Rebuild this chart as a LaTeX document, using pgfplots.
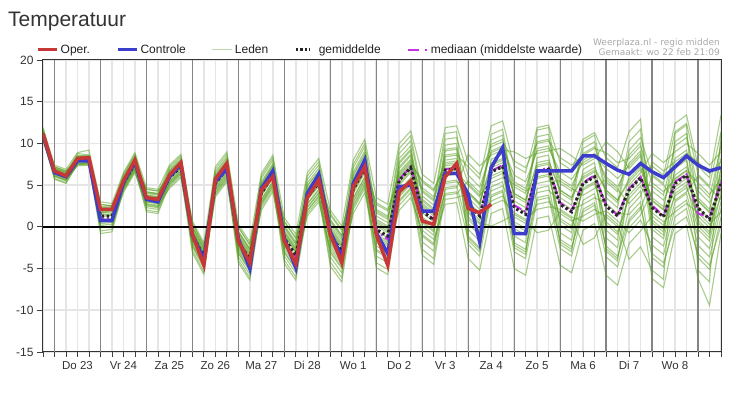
\documentclass[border=0pt]{standalone}
\usepackage{pgfplots}
\pgfplotsset{compat=1.18}
\usepackage{pgfplotstable}
\usepackage{fontspec}
\setmainfont{Liberation Sans}
\newfontfamily\smallfont{DejaVu Sans}
\definecolor{oper}{RGB}{200,55,55}
\definecolor{ctrl}{RGB}{60,60,205}
\definecolor{leden}{RGB}{90,160,35}
\definecolor{med}{RGB}{200,50,230}
\definecolor{txt}{RGB}{51,51,51}

\pgfplotstableread{
k oper ctrl mean med
0 11.2 11.0 11.0 11.0
1 6.7 6.5 6.6 6.6
2 6.1 6.0 6.1 6.1
3 8.2 7.9 8.0 8.0
4 8.3 7.9 8.0 8.0
5 2.1 0.75 1.3 1.0
6 2.1 0.75 1.3 1.0
7 5.5 5.3 5.2 5.3
8 8.0 7.8 7.6 7.7
9 3.5 3.3 3.4 3.4
10 3.3 3.0 3.2 3.2
11 6.2 6.0 5.9 6.0
12 7.7 7.5 7.2 7.3
13 -0.9 -1.0 -1.0 -1.1
14 -4.6 -3.9 -3.6 -3.8
15 5.75 5.5 5.2 5.3
16 7.6 6.9 7.0 7.0
17 -1.7 -1.4 -1.8 -1.9
18 -4.3 -5.0 -3.9 -4.1
19 4.4 4.6 4.0 4.1
20 6.0 6.7 6.2 6.2
21 -1.7 -1.4 -1.4 -1.5
22 -4.4 -4.9 -3.4 -3.6
23 3.5 4.0 3.6 3.7
24 5.6 6.3 5.3 5.4
25 -0.9 -0.6 -1.0 -1.1
26 -4.3 -3.6 -2.9 -3.1
27 4.8 5.2 4.5 4.6
28 7.2 8.0 7.0 7.0
29 -0.9 -0.7 -0.3 -0.5
30 -4.6 -3.2 -1.1 -1.5
31 4.2 4.8 5.6 5.7
32 5.5 5.0 7.1 7.2
33 0.7 1.9 1.9 2.1
34 0.3 1.9 0.8 0.9
35 6.0 6.4 6.8 6.9
36 7.6 6.4 7.0 7.1
37 2.2 3.9 2.7 2.9
38 1.7 -1.8 1.3 1.4
39 2.7 7.1 6.6 6.7
40 nan 9.5 7.2 7.4
41 nan -0.8 2.3 2.6
42 nan -0.8 1.5 1.8
43 nan 6.7 6.6 6.7
44 nan 6.7 6.9 7.1
45 nan 6.7 2.7 2.9
46 nan 6.7 1.8 1.9
47 nan 8.5 5.2 5.3
48 nan 8.5 6.0 6.2
49 nan 7.6 2.5 2.6
50 nan 6.8 1.3 1.4
51 nan 6.3 4.4 4.6
52 nan 7.6 5.9 6.0
53 nan 6.6 2.3 2.6
54 nan 5.9 1.2 1.3
55 nan 7.2 5.2 5.4
56 nan 8.5 6.2 6.3
57 nan 7.4 2.3 1.6
58 nan 6.7 0.9 1.1
59 nan 7.1 5.2 5.4
}\main

\pgfplotstableread{
k m1 m2 m3 m4 m5 m6 m7 m8 m9 m10 m11 m12 m13 m14 m15 m16
0 11.6 10.5 11.2 10.9 11.4 10.3 11.0 11.3 10.8 11.9 10.6 11.1 11.0 11.5 10.4 11.2
1 6.9 6.4 7.2 6.0 6.7 6.2 7.0 6.5 6.8 7.4 5.8 6.3 6.8 6.6 6.1 7.1
2 6.4 5.9 6.7 5.5 6.2 5.7 6.5 6.0 6.3 6.9 5.3 5.8 6.3 6.1 5.6 6.6
3 8.6 7.5 8.2 7.9 8.4 7.3 8.0 8.3 7.8 8.9 7.6 8.1 8.0 8.5 7.4 8.2
4 8.4 7.7 8.3 7.7 8.6 7.4 8.1 8.2 7.9 9.2 7.5 8.0 8.2 8.4 7.6 8.3
5 2.0 0.8 2.7 -0.1 1.5 0.4 2.3 1.0 1.8 3.0 -0.5 0.6 1.8 1.2 0.1 2.4
6 2.2 0.6 2.5 0.1 1.3 0.5 2.4 0.8 1.9 2.8 -0.3 0.7 1.6 1.4 0.0 2.6
7 6.2 4.5 5.4 5.0 5.8 4.1 5.3 5.6 4.8 6.5 4.7 5.4 5.1 6.0 4.3 5.5
8 8.6 6.9 7.8 7.4 8.2 6.5 7.7 8.0 7.2 8.9 7.1 7.8 7.5 8.4 6.7 7.9
9 4.0 3.0 4.5 2.3 3.5 2.7 4.2 3.2 3.8 4.7 2.0 2.8 3.8 3.3 2.5 4.2
10 3.8 2.8 4.3 2.1 3.3 2.5 4.0 3.0 3.6 4.5 1.8 2.6 3.6 3.1 2.3 4.0
11 7.0 5.1 6.2 5.7 6.6 4.6 6.0 6.4 5.5 7.4 5.3 6.1 5.8 6.8 4.8 6.3
12 8.3 6.4 7.5 7.0 7.9 5.9 7.3 7.7 6.8 8.7 6.6 7.4 7.1 8.1 6.1 7.6
13 -0.3 -1.5 0.4 -2.4 -0.8 -1.9 0.0 -1.3 -0.5 0.7 -2.8 -1.7 -0.5 -1.1 -2.2 0.1
14 -2.9 -4.1 -2.2 -5.0 -3.4 -4.5 -2.6 -3.9 -3.1 -1.9 -5.4 -4.3 -3.1 -3.7 -4.8 -2.5
15 6.6 4.1 5.6 4.9 6.1 3.6 5.3 5.8 4.7 7.2 4.4 5.5 5.1 6.4 3.8 5.7
16 8.4 5.9 7.4 6.7 7.9 5.4 7.1 7.6 6.5 9.0 6.2 7.3 6.9 8.2 5.6 7.5
17 -0.9 -2.4 -0.1 -3.6 -1.6 -2.9 -0.6 -2.1 -1.2 0.3 -4.0 -2.7 -1.1 -1.9 -3.2 -0.5
18 -3.0 -4.5 -2.2 -5.7 -3.7 -5.0 -2.7 -4.2 -3.3 -1.8 -6.1 -4.8 -3.2 -4.0 -5.3 -2.6
19 5.8 2.7 4.4 3.7 5.1 2.0 4.1 4.8 3.3 6.4 3.0 4.3 3.9 5.4 2.3 4.6
20 8.0 4.9 6.6 5.9 7.3 4.2 6.3 7.0 5.5 8.6 5.2 6.5 6.1 7.6 4.5 6.8
21 -0.4 -2.1 0.6 -3.5 -1.1 -2.7 0.0 -1.8 -0.7 1.1 -4.0 -2.4 -0.6 -1.5 -3.1 0.2
22 -2.4 -4.1 -1.4 -5.5 -3.1 -4.7 -2.0 -3.8 -2.7 -0.9 -6.0 -4.4 -2.6 -3.5 -5.1 -1.8
23 5.7 2.0 4.1 3.2 4.9 1.3 3.7 4.5 2.8 6.5 2.4 4.0 3.5 5.3 1.6 4.3
24 7.4 3.7 5.8 4.9 6.6 3.0 5.4 6.2 4.5 8.2 4.1 5.7 5.2 7.0 3.3 6.0
25 0.3 -1.8 1.4 -3.6 -0.7 -2.6 0.8 -1.5 -0.2 2.0 -4.2 -2.3 0.0 -1.2 -3.1 0.9
26 -1.6 -3.7 -0.5 -5.5 -2.6 -4.5 -1.1 -3.4 -2.1 0.1 -6.1 -4.2 -1.9 -3.1 -5.0 -1.0
27 7.1 2.6 5.1 4.0 6.1 1.6 4.7 5.6 3.5 8.0 3.1 5.0 4.3 6.6 2.1 5.3
28 9.6 5.1 7.6 6.5 8.6 4.1 7.2 8.1 6.0 10.5 5.6 7.5 6.8 9.1 4.6 7.8
29 1.3 -1.3 2.7 -3.5 0.1 -2.3 1.9 -0.9 0.7 3.5 -4.3 -1.9 0.9 -0.5 -2.9 2.1
30 0.5 -2.1 1.9 -4.3 -0.7 -3.1 1.1 -1.7 -0.1 2.7 -5.1 -2.7 0.1 -1.3 -3.7 1.3
31 8.8 3.2 6.4 5.0 7.6 2.0 5.8 7.0 4.4 10.0 3.8 6.2 5.4 8.2 2.6 6.6
32 10.3 4.7 7.9 6.5 9.1 3.5 7.3 8.5 5.9 11.5 5.3 7.7 6.9 9.7 4.1 8.1
33 3.7 0.7 5.4 -1.8 2.4 -0.4 4.4 1.2 3.1 6.3 -2.7 0.1 3.3 1.7 -1.1 4.7
34 2.6 -0.4 4.3 -2.9 1.3 -1.5 3.3 0.1 2.0 5.2 -3.8 -1.0 2.2 0.6 -2.2 3.6
35 10.5 4.0 7.7 6.1 9.1 2.7 7.0 8.4 5.4 11.9 4.7 7.5 6.6 9.8 3.3 8.0
36 10.7 4.2 7.9 6.3 9.3 2.9 7.2 8.6 5.6 12.1 4.9 7.7 6.8 10.0 3.5 8.2
37 6.2 -1.6 1.7 3.5 5.2 -3.8 0.4 7.2 3.0 7.7 -0.3 2.2 4.2 1.2 4.0 -1.1
38 4.8 -3.0 0.3 2.1 3.8 -5.2 -1.0 5.8 1.6 6.3 -1.7 0.8 2.8 -0.2 2.6 -2.5
39 8.9 7.1 3.1 10.4 5.3 1.6 8.1 12.1 4.3 9.6 6.6 2.6 7.6 5.8 11.1 3.8
40 9.5 7.7 3.7 11.0 5.9 2.2 8.7 12.7 4.9 10.2 7.2 3.2 8.2 6.4 11.7 4.4
41 6.2 -2.5 1.2 3.1 5.1 -5.0 -0.2 7.3 2.6 7.9 -1.1 1.7 4.0 0.6 3.7 -1.9
42 5.4 -3.3 0.4 2.3 4.3 -5.8 -1.0 6.5 1.8 7.1 -1.9 0.9 3.2 -0.2 2.9 -2.7
43 9.1 7.2 2.7 10.8 5.2 1.0 8.3 11.9 4.1 10.0 6.6 2.1 7.7 5.8 11.6 3.5
44 9.4 7.5 3.0 11.1 5.5 1.3 8.6 12.2 4.4 10.3 6.9 2.4 8.0 6.1 11.9 3.8
45 6.6 -2.1 1.6 3.5 5.5 -4.6 0.2 7.7 3.0 8.3 -0.7 2.1 4.4 1.0 4.1 -1.5
46 5.7 -3.0 0.7 2.6 4.6 -5.5 -0.7 6.8 2.1 7.4 -1.6 1.2 3.5 0.1 3.2 -2.4
47 7.7 5.8 1.3 9.4 3.8 -0.4 6.9 10.5 2.7 8.6 5.2 0.7 6.3 4.4 10.2 2.1
48 8.5 6.6 2.1 10.2 4.6 0.4 7.7 11.3 3.5 9.4 6.0 1.5 7.1 5.2 11.0 2.9
49 7.0 -2.9 1.2 3.5 5.7 -5.8 -0.4 8.3 2.8 8.9 -1.3 1.9 4.4 0.6 4.1 -2.3
50 5.8 -4.1 0.0 2.3 4.5 -7.0 -1.6 7.1 1.6 7.7 -2.5 0.7 3.2 -0.6 2.9 -3.5
51 7.3 5.0 -0.1 9.2 2.8 -2.0 6.3 11.4 1.5 8.2 4.4 -0.7 5.7 3.4 10.2 0.9
52 8.8 6.5 1.4 10.7 4.3 -0.5 7.8 12.9 3.0 9.7 5.9 0.8 7.2 4.9 11.7 2.4
53 -1.2 8.8 4.3 6.3 -3.7 1.3 3.1 0.1 -6.2 5.3 7.3 -2.2 3.5 2.3 0.8 -3.2
54 -2.3 7.7 3.2 5.2 -4.8 0.2 2.0 -1.0 -7.3 4.2 6.2 -3.3 2.4 1.2 -0.3 -4.3
55 3.0 9.0 6.2 11.4 1.2 3.7 10.2 7.2 -0.8 5.7 12.4 2.2 8.2 4.4 7.0 0.2
56 4.0 10.0 7.2 12.4 2.2 4.7 11.2 8.2 0.2 6.7 13.4 3.2 9.2 5.4 8.0 1.2
57 -1.2 8.8 4.3 6.3 -3.7 1.3 3.1 0.1 -6.2 5.3 7.3 -2.2 3.5 2.3 0.8 -3.2
58 -2.6 7.4 2.9 4.9 -5.1 -0.1 1.7 -1.3 -9.4 3.9 5.9 -3.6 2.1 0.9 -0.6 -4.6
59 3.0 9.0 6.2 11.4 1.2 3.7 10.2 7.2 -0.8 5.7 13.4 2.2 8.2 4.4 7.0 0.2
}\members

\pgfplotstableread{
k m17 m18 m19 m20 m21 m22 m23 m24
0 11.3 10.9 11.8 10.6 11.1 10.7 11.4 10.5
1 6.4 6.7 7.0 6.1 7.2 6.8 6.4 5.7
2 5.9 6.2 6.5 5.6 6.7 6.3 5.9 5.2
3 8.3 7.9 8.8 7.6 8.1 7.7 8.4 7.5
4 8.2 8.0 8.6 7.7 8.3 7.6 8.5 7.4
5 0.9 1.6 2.2 0.2 2.7 1.7 0.8 -0.8
6 1.0 1.4 2.4 0.3 2.5 1.8 0.7 -0.6
7 5.7 5.1 6.3 4.6 5.3 4.8 5.9 4.4
8 8.1 7.5 8.7 7.0 7.7 7.2 8.3 6.8
9 3.1 3.6 4.1 2.6 4.5 3.7 3.0 1.8
10 2.9 3.4 3.9 2.4 4.3 3.5 2.8 1.6
11 6.5 5.8 7.2 5.2 6.0 5.4 6.7 5.0
12 7.8 7.1 8.5 6.5 7.3 6.7 8.0 6.3
13 -1.4 -0.7 -0.1 -2.1 0.4 -0.6 -1.5 -3.1
14 -4.0 -3.3 -2.7 -4.7 -2.2 -3.2 -4.1 -5.7
15 5.9 5.0 6.9 4.3 5.4 4.6 6.2 4.0
16 7.7 6.8 8.7 6.1 7.2 6.4 8.0 5.8
17 -2.2 -1.5 -0.7 -3.1 0.0 -1.4 -2.5 -4.3
18 -4.3 -3.6 -2.8 -5.2 -2.1 -3.5 -4.6 -6.4
19 4.9 3.8 6.1 2.9 4.2 3.2 5.2 2.6
20 7.1 6.0 8.3 5.1 6.4 5.4 7.4 4.8
21 -1.9 -1.0 -0.1 -3.0 0.7 -0.9 -2.2 -4.4
22 -3.9 -3.0 -2.1 -5.0 -1.3 -2.9 -4.2 -6.4
23 4.6 3.3 6.1 2.3 3.9 2.7 5.0 1.9
24 6.3 5.0 7.8 4.0 5.6 4.4 6.7 3.6
25 -1.6 -0.5 0.6 -2.9 1.6 -0.4 -2.0 -4.7
26 -3.5 -2.4 -1.3 -4.8 -0.3 -2.3 -3.9 -6.6
27 5.8 4.2 7.5 2.9 4.8 3.4 6.3 2.4
28 8.3 6.7 10.0 5.4 7.3 5.9 8.8 4.9
29 -1.1 0.3 1.7 -2.7 2.9 0.5 -1.5 -4.9
30 -1.9 -0.5 0.9 -3.5 2.1 -0.3 -2.3 -5.7
31 7.2 5.2 9.4 3.6 6.0 4.2 7.8 3.0
32 8.7 6.7 10.9 5.1 7.5 5.7 9.3 4.5
33 1.0 2.6 4.2 -0.9 5.6 2.8 0.5 -3.4
34 -0.1 1.5 3.1 -2.0 4.5 1.7 -0.6 -4.5
35 8.6 6.3 11.2 4.5 7.3 5.2 9.3 3.8
36 8.8 6.5 11.4 4.7 7.5 5.4 9.5 4.0
37 0.9 5.0 -1.3 8.7 1.9 4.2 -2.1 5.5
38 -0.5 3.6 -2.7 7.3 0.5 2.8 -3.5 4.1
39 6.1 9.9 4.8 8.6 0.1 7.4 3.6 9.1
40 6.7 10.5 5.4 9.2 0.7 8.0 4.2 9.7
41 0.3 4.8 -2.2 9.0 1.5 4.0 -3.0 5.4
42 -0.5 4.0 -3.0 8.2 0.7 3.2 -3.8 4.6
43 6.0 10.2 4.6 8.8 -0.7 7.4 3.2 9.4
44 6.3 10.5 4.9 9.1 -0.4 7.7 3.5 9.7
45 0.7 5.2 -1.8 9.4 1.9 4.4 -2.6 5.8
46 -0.2 4.3 -2.7 8.5 1.0 3.5 -3.5 4.9
47 4.6 8.8 3.2 7.4 -2.1 6.0 1.8 8.0
48 5.4 9.6 4.0 8.2 -1.3 6.8 2.6 8.8
49 0.3 5.4 -2.6 10.2 1.5 4.4 -3.6 6.0
50 -0.9 4.2 -3.8 9.0 0.3 3.2 -4.8 4.8
51 3.8 8.6 2.2 7.0 -3.9 5.4 0.6 7.6
52 5.3 10.1 3.7 8.5 -2.4 6.9 2.1 9.1
53 4.9 -0.3 7.8 1.7 -5.2 3.2 6.1 0.5
54 3.8 -1.4 6.7 0.6 -6.3 2.1 5.0 -0.6
55 9.7 4.0 7.8 1.8 11.2 4.8 3.2 5.8
56 10.7 5.0 8.8 2.8 12.2 5.8 4.2 6.8
57 4.9 -0.3 7.8 1.7 -5.2 3.2 6.1 0.5
58 3.5 -1.7 6.4 0.3 -6.6 1.8 4.7 -0.9
59 9.7 4.0 7.8 1.8 11.2 4.8 3.2 5.8
}\membersB

\begin{document}
\begin{tikzpicture}
\useasboundingbox (0,0) rectangle (752pt,396pt);
\node[anchor=base west, inner sep=0pt, text=txt, font=\fontsize{21}{24}\selectfont] at (8pt,369pt) {Temperatuur};
\node[anchor=base east, inner sep=0pt, text=black!34, font=\smallfont\fontsize{9}{10}\selectfont] at (720pt,350pt) {Weerplaza.nl - regio midden};
\node[anchor=base east, inner sep=0pt, text=black!34, font=\smallfont\fontsize{9}{10}\selectfont] at (720pt,340pt) {Gemaakt: wo 22 feb 21:09};
\begin{axis}[
  at={(43pt,44pt)}, anchor=south west,
  scale only axis, width=678pt, height=292pt,
  xmin=0, xmax=59, ymin=-15, ymax=20,
  axis line style={draw=black!80, line width=1pt},
  tick align=outside,
  xtick pos=left, ytick pos=left,
  xtick={3,7,...,55},
  xticklabels={Do 23,Vr 24,Za 25,Zo 26,Ma 27,Di 28,Wo 1,Do 2,Vr 3,Za 4,Zo 5,Ma 6,Di 7,Wo 8},
  major x tick style={draw=none},
  minor xtick={0,...,59},
  minor x tick style={draw=black!75, line width=0.8pt},
  minor tick length=5pt,
  major tick length=6pt,
  xminorgrids=true,
  minor x grid style={draw=black!10, line width=1.6pt},
  extra x ticks={1,5,...,57},
  extra x tick labels={},
  extra x tick style={grid=major, major grid style={draw=black!48, line width=1.2pt}, tick style={draw=black!75, line width=0.8pt}, major tick length=6pt},
  ytick={-15,-10,...,20},
  yticklabels={-15,-10,-5,0,5,10,15,20},
  ymajorgrids=true,
  major y grid style={draw=black!10, line width=1.6pt},
  y tick style={draw=black!75, line width=0.8pt},
  ticklabel style={text=txt},
  xticklabel style={font=\fontsize{11.5}{13}\selectfont, anchor=base, yshift=-12pt},
  yticklabel style={font=\fontsize{12}{14}\selectfont},
  legend style={at={(0,1)}, anchor=south west, xshift=-10pt, yshift=1pt, draw=none, fill=none,
    legend columns=-1, font=\fontsize{12}{14}\selectfont, text=black!87,
    /tikz/every odd column/.append style={column sep=0pt},
    /tikz/every even column/.append style={column sep=24pt}},
  clip=true,
]
\pgfplotsinvokeforeach{1,...,16}{
  \addplot[leden, opacity=0.52, line width=1.1pt, forget plot] table[x=k, y=m#1] {\members};
}
\pgfplotsinvokeforeach{17,...,24}{
  \addplot[leden, opacity=0.52, line width=1.1pt, forget plot] table[x=k, y=m#1] {\membersB};
}
\addplot[black, line width=1.8pt, forget plot] coordinates {(0,0) (59,0)};
\addplot[med, line width=2pt, dash pattern=on 9pt off 3pt on 2pt off 3pt, forget plot] table[x=k, y=med] {\main};
\addplot[black!85, line width=3pt, dash pattern=on 2.5pt off 2.5pt, forget plot] table[x=k, y=mean] {\main};
\addplot[ctrl, line width=3.5pt, forget plot] table[x=k, y=ctrl] {\main};
\addplot[oper, line width=3.5pt, forget plot] table[x=k, y=oper] {\main};

\addlegendimage{legend image code/.code={\draw[oper, line width=3.5pt] (0pt,0pt) -- (19pt,0pt);}}
\addlegendentry{Oper.}
\addlegendimage{legend image code/.code={\draw[ctrl, line width=3.5pt] (0pt,0pt) -- (19pt,0pt);}}
\addlegendentry{Controle}
\addlegendimage{legend image code/.code={\draw[leden, opacity=0.4, line width=1pt] (0pt,0pt) -- (20pt,0pt);}}
\addlegendentry{Leden}
\addlegendimage{legend image code/.code={\draw[black!85, line width=3pt, dash pattern=on 2.5pt off 2pt] (0pt,0pt) -- (14pt,0pt); \path[draw=none, fill=none] (0pt,0pt) -- (21pt,0pt);}}
\addlegendentry{gemiddelde}
\addlegendimage{legend image code/.code={\draw[med, line width=2pt] (0pt,0pt) -- (11pt,0pt); \draw[med, line width=2pt] (17pt,0pt) -- (19pt,0pt); \path[draw=none, fill=none] (0pt,0pt) -- (21pt,0pt);}}
\addlegendentry{mediaan (middelste waarde)}
\end{axis}
\end{tikzpicture}
\end{document}
